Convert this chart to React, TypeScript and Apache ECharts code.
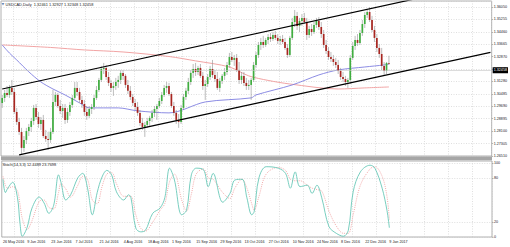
import React, { useEffect, useRef } from "react";
import * as echarts from "echarts";

// ---- tick labels ----
const dateTicks = [
  "26 May 2016", "9 Jun 2016", "23 Jun 2016", "7 Jul 2016", "21 Jul 2016",
  "4 Aug 2016", "18 Aug 2016", "1 Sep 2016", "15 Sep 2016", "29 Sep 2016",
  "13 Oct 2016", "27 Oct 2016", "10 Nov 2016", "24 Nov 2016", "8 Dec 2016",
  "22 Dec 2016", "9 Jan 2017",
];
const priceMin = 1.2651;
const priceMax = 1.36434;
const priceStep = 0.00795;
const stochTicks = [0, 20, 80, 100];
const totalSlots = 203; // bars + empty chart shift on the right

// ---- candles [open, close, low, high] ----
const ohlcMayJul: number[][] = [
  [1.2991, 1.3023, 1.2959, 1.3042], [1.3023, 1.3055, 1.2997, 1.3074], [1.3055, 1.3042, 1.3029, 1.3099],
  [1.3042, 1.3087, 1.3023, 1.3106], [1.3087, 1.3061, 1.3042, 1.3138], [1.3061, 1.2933, 1.292, 1.3087],
  [1.2933, 1.2869, 1.285, 1.2959], [1.2869, 1.2805, 1.2786, 1.2895], [1.2805, 1.2703, 1.2658, 1.2831],
  [1.2703, 1.2754, 1.2677, 1.2779], [1.2754, 1.2811, 1.2728, 1.2831], [1.2811, 1.2837, 1.2779, 1.2856],
  [1.2837, 1.2875, 1.2805, 1.2895], [1.2875, 1.2959, 1.285, 1.2978], [1.2959, 1.2901, 1.2882, 1.2984],
  [1.2901, 1.2856, 1.2831, 1.2933], [1.2856, 1.2882, 1.2818, 1.2901], [1.2882, 1.2779, 1.2767, 1.2914],
  [1.2779, 1.276, 1.2741, 1.2818], [1.276, 1.2754, 1.269, 1.2805], [1.2754, 1.2805, 1.2735, 1.2831],
  [1.2805, 1.2997, 1.2792, 1.3074], [1.2997, 1.3042, 1.2971, 1.3061], [1.3042, 1.2971, 1.2959, 1.3055],
  [1.2971, 1.2939, 1.292, 1.301], [1.2939, 1.2959, 1.2895, 1.2984], [1.2959, 1.2882, 1.2856, 1.2984],
  [1.2882, 1.2933, 1.2863, 1.2959], [1.2933, 1.2978, 1.2908, 1.2997], [1.2978, 1.3023, 1.2959, 1.3042],
  [1.3023, 1.3087, 1.301, 1.3125], [1.3087, 1.3061, 1.3036, 1.3125], [1.3061, 1.301, 1.2991, 1.3087],
  [1.301, 1.2984, 1.2959, 1.3036], [1.2984, 1.2933, 1.2908, 1.301], [1.2933, 1.2908, 1.2882, 1.2971],
  [1.2908, 1.2952, 1.2895, 1.2971], [1.2952, 1.2965, 1.292, 1.2984], [1.2965, 1.3023, 1.2946, 1.3042],
  [1.3023, 1.3074, 1.301, 1.3099], [1.3074, 1.3138, 1.3061, 1.3151], [1.3138, 1.3208, 1.3125, 1.3228],
  [1.3208, 1.3215, 1.3176, 1.3247], [1.3215, 1.3157, 1.3138, 1.3234], [1.3157, 1.3119, 1.3099, 1.3189],
  [1.3119, 1.3087, 1.3061, 1.3138], [1.3087, 1.3099, 1.3036, 1.3125], [1.3099, 1.3125, 1.3074, 1.3151],
  [1.3125, 1.3138, 1.3087, 1.3164], [1.3138, 1.3183, 1.3112, 1.3202],
];
const ohlcAugSep: number[][] = [
  [1.3183, 1.3164, 1.3138, 1.3202], [1.3164, 1.3106, 1.3087, 1.3176], [1.3106, 1.3068, 1.3048, 1.3138],
  [1.3068, 1.3029, 1.301, 1.3099], [1.3029, 1.2991, 1.2971, 1.3048], [1.2991, 1.2965, 1.2946, 1.3016],
  [1.2965, 1.2927, 1.2908, 1.2997], [1.2927, 1.2863, 1.2844, 1.2946], [1.2863, 1.2837, 1.2818, 1.2895],
  [1.2837, 1.285, 1.2773, 1.2869], [1.285, 1.2875, 1.2831, 1.2895], [1.2875, 1.2895, 1.2844, 1.2908],
  [1.2895, 1.2927, 1.2869, 1.2946], [1.2927, 1.2952, 1.2901, 1.2971], [1.2952, 1.2971, 1.2882, 1.2984],
  [1.2971, 1.3003, 1.2959, 1.3023], [1.3003, 1.3042, 1.2984, 1.3061], [1.3042, 1.3087, 1.3029, 1.3106],
  [1.3087, 1.3099, 1.3055, 1.3125], [1.3099, 1.3048, 1.3036, 1.3119], [1.3048, 1.2971, 1.2959, 1.3061],
  [1.2971, 1.2927, 1.2908, 1.2997], [1.2927, 1.2882, 1.2856, 1.2946], [1.2882, 1.2869, 1.2831, 1.292],
  [1.2869, 1.2959, 1.2856, 1.2978], [1.2959, 1.3029, 1.2946, 1.3048], [1.3029, 1.3068, 1.301, 1.3087],
  [1.3068, 1.3125, 1.3048, 1.3151], [1.3125, 1.3183, 1.3106, 1.3202], [1.3183, 1.3208, 1.3151, 1.324],
  [1.3208, 1.3189, 1.3164, 1.3247], [1.3189, 1.3215, 1.317, 1.3228], [1.3215, 1.3164, 1.3151, 1.324],
  [1.3164, 1.3099, 1.3074, 1.3189], [1.3099, 1.3112, 1.301, 1.3138], [1.3112, 1.3157, 1.3093, 1.3176],
  [1.3157, 1.3208, 1.3138, 1.3228], [1.3208, 1.317, 1.3151, 1.3266], [1.317, 1.3144, 1.3125, 1.3202],
  [1.3144, 1.3087, 1.3074, 1.3189], [1.3087, 1.3132, 1.3061, 1.3151], [1.3132, 1.3164, 1.3112, 1.3176],
  [1.3164, 1.3189, 1.3138, 1.3215], [1.3189, 1.3234, 1.317, 1.3253], [1.3234, 1.3285, 1.3215, 1.3311],
  [1.3285, 1.3266, 1.3253, 1.3317], [1.3266, 1.3279, 1.3228, 1.3298], [1.3279, 1.3202, 1.3189, 1.3304],
  [1.3202, 1.3138, 1.3112, 1.3253], [1.3138, 1.3164, 1.3112, 1.3189],
];
const ohlcOctNov: number[][] = [
  [1.3164, 1.3119, 1.3099, 1.3189], [1.3119, 1.3099, 1.3074, 1.3151], [1.3099, 1.3106, 1.3074, 1.3138],
  [1.3106, 1.3138, 1.301, 1.3151], [1.3138, 1.3234, 1.3125, 1.3253], [1.3234, 1.3298, 1.3215, 1.3317],
  [1.3298, 1.3362, 1.3279, 1.3381], [1.3362, 1.3381, 1.333, 1.3407], [1.3381, 1.3362, 1.3343, 1.342],
  [1.3362, 1.3394, 1.3349, 1.3407], [1.3394, 1.3413, 1.3368, 1.3432], [1.3413, 1.34, 1.3381, 1.3439],
  [1.34, 1.3426, 1.3388, 1.3445], [1.3426, 1.3407, 1.3394, 1.3452], [1.3407, 1.3388, 1.3368, 1.3432],
  [1.3388, 1.34, 1.3362, 1.342], [1.34, 1.3381, 1.3368, 1.3426], [1.3381, 1.3343, 1.333, 1.3407],
  [1.3343, 1.3298, 1.3279, 1.3368], [1.3298, 1.3407, 1.3285, 1.342], [1.3407, 1.3509, 1.3394, 1.3535],
  [1.3509, 1.3548, 1.3477, 1.3586], [1.3548, 1.3484, 1.3458, 1.3573], [1.3484, 1.3516, 1.3445, 1.3535],
  [1.3516, 1.3535, 1.3484, 1.356], [1.3535, 1.3509, 1.3496, 1.3567], [1.3509, 1.3426, 1.3394, 1.3535],
  [1.3426, 1.3464, 1.3407, 1.3484], [1.3464, 1.3445, 1.342, 1.3496], [1.3445, 1.349, 1.3432, 1.3509],
  [1.349, 1.3516, 1.3471, 1.3535], [1.3516, 1.3477, 1.3458, 1.3541], [1.3477, 1.3432, 1.3407, 1.3509],
  [1.3432, 1.3362, 1.3343, 1.3458], [1.3362, 1.3324, 1.3304, 1.3394], [1.3324, 1.3285, 1.3266, 1.3349],
  [1.3285, 1.3272, 1.3253, 1.3317], [1.3272, 1.3253, 1.3228, 1.3298], [1.3253, 1.3234, 1.3215, 1.3279],
  [1.3234, 1.3196, 1.3176, 1.3266],
];
const ohlcDecJan: number[][] = [
  [1.3196, 1.3157, 1.3138, 1.3215], [1.3157, 1.3144, 1.3125, 1.3189], [1.3144, 1.3125, 1.3099, 1.3164],
  [1.3125, 1.3138, 1.3087, 1.3151], [1.3138, 1.3279, 1.3112, 1.3298], [1.3279, 1.3356, 1.3266, 1.3381],
  [1.3356, 1.3394, 1.333, 1.342], [1.3394, 1.3375, 1.3356, 1.3432], [1.3375, 1.3439, 1.3362, 1.3458],
  [1.3439, 1.3496, 1.342, 1.3522], [1.3496, 1.3554, 1.3471, 1.3573], [1.3554, 1.3573, 1.3535, 1.3586],
  [1.3573, 1.3522, 1.3509, 1.3605], [1.3522, 1.3458, 1.3445, 1.3548], [1.3458, 1.3407, 1.3381, 1.3484],
  [1.3407, 1.3343, 1.3317, 1.3432], [1.3343, 1.3304, 1.3279, 1.3368], [1.3304, 1.3228, 1.3202, 1.3343],
  [1.3228, 1.3196, 1.317, 1.3253], [1.3196, 1.3247, 1.3176, 1.3253], [1.32461, 1.32458, 1.32348, 1.32927],
];

// ---- moving averages [barIndex, price] ----
const maBlue: number[][] = [
  [0, 1.3362], [3, 1.331], [6, 1.3266], [11, 1.319], [16, 1.3125], [21, 1.308], [26, 1.3042],
  [32, 1.2991], [36, 1.2959], [48, 1.2959], [56, 1.294], [69, 1.2927], [84, 1.2997], [103, 1.3023],
  [105, 1.3042], [120, 1.3106], [131, 1.317], [139, 1.3202], [150, 1.3221], [158, 1.3234], [160, 1.324],
];
const maPink: number[][] = [
  [0, 1.3362], [20, 1.3346], [34, 1.333], [50, 1.3317], [69, 1.3288], [80, 1.326], [94, 1.3221],
  [102, 1.3164], [110, 1.3135], [119, 1.3112], [139, 1.308], [150, 1.3087], [160, 1.3093],
];

// ---- channel lines [barIndex, price] ----
const channelUpper: number[][] = [[0, 1.308], [180, 1.3688]];
const channelLower: number[][] = [[7, 1.2658], [202, 1.3314]];
const bidPrice = 1.32458;

// ---- stochastic [barIndex, value] ----
const stochMain: number[][] = [
  [0, 78], [1, 60], [2, 66], [4, 74], [6, 53], [7, 20], [8, 1], [10, 13], [12, 39], [15, 54], [17, 46],
  [19, 32], [21, 43], [23, 84], [24, 74], [26, 50], [28, 57], [31, 80], [33, 86], [35, 66], [37, 30],
  [39, 60], [41, 81], [43, 90], [45, 84], [47, 61], [50, 50], [52, 57], [53, 53], [55, 12], [57, 7],
  [59, 9], [62, 32], [65, 39], [67, 53], [69, 93], [71, 77], [74, 30], [76, 36], [78, 84], [80, 93],
  [83, 91], [85, 68], [87, 86], [91, 47], [94, 59], [96, 77], [99, 78], [101, 53], [103, 30], [104, 34],
  [106, 80], [109, 95], [114, 93], [117, 86], [119, 66], [121, 88], [123, 68], [126, 70], [128, 59],
  [130, 70], [132, 53], [135, 14], [138, 5], [141, 1], [143, 9], [145, 61], [148, 88], [152, 97],
  [154, 93], [157, 66], [159, 36], [160, 12.45],
];
const stochSignal: number[][] = [
  [0, 82], [1, 70], [2, 66], [4, 68], [6, 62], [7, 45], [8, 25], [10, 10], [12, 22], [15, 48], [17, 50],
  [19, 40], [21, 38], [23, 60], [24, 72], [26, 65], [28, 54], [31, 70], [33, 82], [35, 78], [37, 50],
  [39, 45], [41, 68], [43, 85], [45, 87], [47, 72], [50, 55], [52, 55], [53, 55], [55, 30], [57, 12],
  [59, 8], [62, 20], [65, 36], [67, 45], [69, 75], [71, 85], [74, 50], [76, 35], [78, 58], [80, 85],
  [83, 92], [85, 80], [87, 78], [91, 60], [94, 52], [96, 66], [99, 78], [101, 66], [103, 45], [104, 36],
  [106, 55], [109, 85], [114, 94], [117, 90], [119, 78], [121, 76], [123, 76], [126, 70], [128, 66],
  [130, 64], [132, 62], [135, 35], [138, 15], [141, 5], [143, 5], [145, 30], [148, 70], [152, 92],
  [154, 95], [157, 82], [159, 55], [160, 23.77],
];

const FONT = "Liberation Sans";
const TXT = "#222";
const GRIDLINE = { color: "#c9c9c9", width: 0.6, type: [1, 1.5] as any };

export default function App() {
  const ref = useRef<HTMLDivElement>(null);
  useEffect(() => {
    const el = ref.current;
    if (!el) return;
    const chart = echarts.init(el, undefined, { renderer: "svg" });
    const ohlc = [...ohlcMayJul, ...ohlcAugSep, ...ohlcOctNov, ...ohlcDecJan];
    const cats = Array.from({ length: totalSlots }, (_, i) => String(i));
    const candleData = ohlc.map((d, i) => [i, d[0], d[1], d[2], d[3]]);
    const gridFn = (idx: number) => idx % 10 === 5;
    const labFn = (idx: number) => idx % 10 === 0 && idx / 10 < dateTicks.length;

    const option: any = {
      animation: false,
      backgroundColor: "#ffffff",
      grid: [
        { left: 1, right: 18, top: 1, height: 155, show: true, borderColor: "#9c9c9c", borderWidth: 0.8 },
        { left: 1, right: 18, top: 161, height: 76, show: true, borderColor: "#9c9c9c", borderWidth: 0.8 },
      ],
      xAxis: [
        {
          type: "category", gridIndex: 0, data: cats, boundaryGap: true,
          axisLine: { show: false }, axisTick: { show: false }, axisLabel: { show: false },
          splitLine: { show: true, interval: gridFn, lineStyle: GRIDLINE },
        },
        {
          type: "category", gridIndex: 1, data: cats, boundaryGap: true,
          axisLine: { show: false }, axisTick: { show: false },
          axisLabel: {
            show: true, interval: labFn, align: "left", margin: 2.5,
            fontSize: 3.7, fontFamily: FONT, color: TXT,
            formatter: (_v: string, i: number) => dateTicks[Math.round(i / 10)] || "",
          },
          splitLine: { show: true, interval: gridFn, lineStyle: GRIDLINE },
        },
      ],
      yAxis: [
        {
          type: "value", gridIndex: 0, position: "right",
          min: priceMin, max: priceMax, interval: priceStep,
          axisLine: { show: false },
          axisTick: { show: true, length: 1.5, lineStyle: { color: "#888", width: 0.6 } },
          axisLabel: {
            fontSize: 3.7, fontFamily: FONT, color: TXT, margin: 2, showMaxLabel: false,
            formatter: (v: number) => v.toFixed(5),
          },
          splitLine: { show: true, lineStyle: GRIDLINE },
        },
        {
          type: "value", gridIndex: 1, position: "right", min: 0, max: 102.7,
          axisLine: { show: false },
          axisTick: { show: true, length: 1.5, customValues: stochTicks, lineStyle: { color: "#888", width: 0.6 } },
          axisLabel: { fontSize: 3.7, fontFamily: FONT, color: TXT, margin: 2, customValues: stochTicks },
          splitLine: { show: true, lineStyle: GRIDLINE },
        },
      ],
      series: [
        {
          type: "line", name: "MA slow", xAxisIndex: 0, yAxisIndex: 0, data: maPink,
          showSymbol: false, smooth: 0.3, z: 3, silent: true,
          lineStyle: { color: "#ef9a9a", width: 0.9 },
          markLine: {
            silent: true, symbol: "none", animation: false,
            lineStyle: { color: "#c4c4c4", width: 0.6, type: "solid" },
            label: {
              show: true, position: "end", formatter: "1.32458", distance: 1,
              backgroundColor: "#000", color: "#fff", fontSize: 3.7, fontFamily: FONT, padding: [1, 1],
            },
            data: [{ yAxis: bidPrice }],
          },
        },
        {
          type: "line", name: "MA fast", xAxisIndex: 0, yAxisIndex: 0, data: maBlue,
          showSymbol: false, smooth: 0.3, z: 3, silent: true,
          lineStyle: { color: "#7f7fe0", width: 0.9 },
        },
        {
          type: "custom", name: "USDCAD", xAxisIndex: 0, yAxisIndex: 0, data: candleData, z: 4, clip: true,
          encode: { x: 0, y: [1, 2, 3, 4] },
          renderItem: (_p: any, api: any) => {
            const i = api.value(0);
            const o = api.value(1), c = api.value(2), l = api.value(3), h = api.value(4);
            const pO = api.coord([i, o]);
            const pC = api.coord([i, c]);
            const pL = api.coord([i, l]);
            const pH = api.coord([i, h]);
            const w = api.size([1, 0])[0] * 0.7;
            const top = Math.min(pO[1], pC[1]);
            const bh = Math.max(Math.abs(pO[1] - pC[1]), 0.6);
            const up = c >= o;
            return {
              type: "group",
              children: [
                { type: "line", shape: { x1: pH[0], y1: pH[1], x2: pL[0], y2: pL[1] }, style: { stroke: "#8e8e8e", lineWidth: 0.6 } },
                { type: "rect", shape: { x: pO[0] - w / 2, y: top, width: w, height: bh }, style: { fill: up ? "#3fae3f" : "#a82620" } },
              ],
            };
          },
        },
        {
          type: "line", name: "Channel top", xAxisIndex: 0, yAxisIndex: 0, data: channelUpper,
          showSymbol: false, z: 5, silent: true, lineStyle: { color: "#000", width: 1.2 },
        },
        {
          type: "line", name: "Channel bottom", xAxisIndex: 0, yAxisIndex: 0, data: channelLower,
          showSymbol: false, z: 5, silent: true, lineStyle: { color: "#000", width: 1.2 },
        },
        {
          type: "line", name: "Signal", xAxisIndex: 1, yAxisIndex: 1, data: stochSignal,
          showSymbol: false, smooth: 0.35, z: 3, silent: true,
          lineStyle: { color: "#f0a0a0", width: 0.9, type: [1, 1.2] },
        },
        {
          type: "line", name: "Main", xAxisIndex: 1, yAxisIndex: 1, data: stochMain,
          showSymbol: false, smooth: 0.35, z: 4, silent: true,
          lineStyle: { color: "#69c8b8", width: 0.9 },
        },
      ],
      graphic: [
        { type: "rect", shape: { x: 1, y: 156.6, width: 491, height: 3.6 }, style: { fill: "#a6a6a6" }, z: 10 },
        { type: "polygon", shape: { points: [[1.5, 3], [4.5, 3], [3, 5.5]] }, style: { fill: "#6f8fc0" }, z: 10 },
        {
          type: "text", x: 5.5, y: 2.2, z: 10,
          style: { text: "USDCAD,Daily  1.32461 1.32927 1.32348 1.32458", fontSize: 3.9, fontFamily: FONT, fill: TXT },
        },
        {
          type: "text", x: 2.5, y: 162.5, z: 10,
          style: { text: "Stoch(14,3,3) 12.4489 23.7698", fontSize: 3.9, fontFamily: FONT, fill: TXT },
        },
      ],
    };
    chart.setOption(option);
    return () => chart.dispose();
  }, []);
  return (
    <div
      ref={ref}
      style={{ position: "fixed", left: 0, top: 0, width: 510, height: 247, background: "#fff" }}
    />
  );
}
